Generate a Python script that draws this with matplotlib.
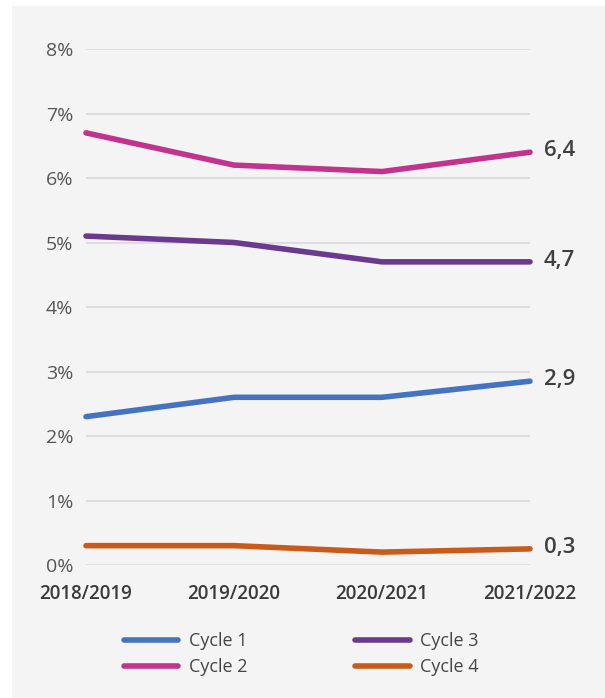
import matplotlib.pyplot as plt
from matplotlib.patches import Rectangle

# data
years = ["2018/2019", "2019/2020", "2020/2021", "2021/2022"]
cycle1 = [2.3, 2.6, 2.6, 2.85]
cycle2 = [6.7, 6.2, 6.1, 6.4]
cycle3 = [5.1, 5.0, 4.7, 4.7]
cycle4 = [0.3, 0.3, 0.2, 0.25]
end_labels = ["2,9", "6,4", "4,7", "0,3"]
series_names = ["Cycle 1", "Cycle 2", "Cycle 3", "Cycle 4"]
colors = ["#4573bf", "#c1338c", "#6b3a8f", "#c95a1a"]

plt.rcParams['font.family'] = ['Open Sans', 'DejaVu Sans']

fig = plt.figure(figsize=(6.05, 6.98), dpi=100)
fig.patch.set_facecolor("white")
bg = Rectangle((12 / 605, 0), 1, 1 - 6 / 698, transform=fig.transFigure,
               facecolor="#f4f4f4", edgecolor="none", zorder=-10)
fig.patches.append(bg)

ax = fig.add_axes([86 / 605, 1 - 565 / 698, 444 / 605, 516 / 698])
ax.set_facecolor("none")
ax.set_zorder(1)

x = list(range(len(years)))
lines = []
for vals, name, c, lab in zip([cycle1, cycle2, cycle3, cycle4], series_names, colors, end_labels):
    ln, = ax.plot(x, vals, color=c, lw=4, solid_capstyle="round", solid_joinstyle="round",
                  label=name, zorder=3, clip_on=False)
    lines.append(ln)
    ax.annotate(lab, (x[-1], vals[-1]), xytext=(10, 1), textcoords="offset points",
                va="center", ha="left", fontsize=16, fontweight="semibold", color="#404040",
                annotation_clip=False)

ax.set_xlim(0, 3)
ax.set_ylim(0, 8)
ax.set_yticks(range(0, 9))
ax.set_yticklabels([f"{i}%" for i in range(0, 9)], color="#555555", fontsize=14)
ax.set_xticks(x)
ax.set_xticklabels(years, color="#3a3a3a", fontsize=13.5, fontweight="semibold")
ax.tick_params(axis="both", length=0)
ax.tick_params(axis="y", pad=9)
ax.tick_params(axis="x", pad=14)
ax.grid(axis="y", color="#dadada", lw=1.2)
ax.set_axisbelow(True)
for s in ax.spines.values():
    s.set_visible(False)

fig.legend(handles=lines, labels=series_names, ncol=2, loc="center",
           bbox_to_anchor=(0.498, 1 - 654 / 698), frameon=False, fontsize=13,
           handlelength=3.0, handletextpad=0.6, columnspacing=6.0, labelspacing=0.45,
           labelcolor="#444444")

fig.savefig("out.png", dpi=100)
